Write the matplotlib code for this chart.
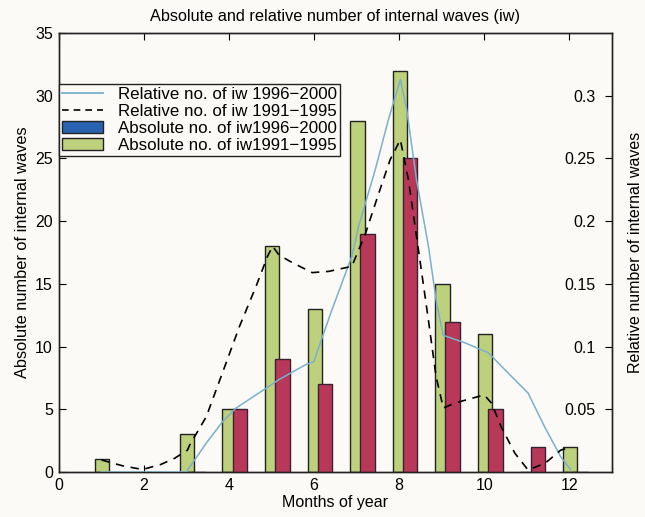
import matplotlib
matplotlib.use("Agg")
import matplotlib.pyplot as plt
import numpy as np
from matplotlib.patches import Patch
from matplotlib.lines import Line2D

plt.rcParams['font.family'] = ['Liberation Sans', 'DejaVu Sans']

months = [1, 2, 3, 4, 5, 6, 7, 8, 9, 10, 11, 12]
abs_1991_1995 = [1, 0, 3, 5, 18, 13, 28, 32, 15, 11, 0, 2]
abs_1996_2000 = [0, 0, 0, 5, 9, 7, 19, 25, 12, 5, 2, 0]

# relative curves (smoothed curves)
rel_1996_2000_x = [1, 2, 3, 3.47, 3.85, 4.17, 4.64, 5.17, 5.8, 6.0, 6.15, 6.42, 6.89, 7.05,
                   7.44, 7.75, 8.03, 8.18, 8.41, 8.69, 8.88, 9.04, 9.55, 10.1, 10.56,
                   11.03, 11.42, 11.8, 12.03]
rel_1996_2000_y = [0, 0, 0, 0.023, 0.040, 0.051, 0.0615, 0.0735, 0.0855, 0.088, 0.103, 0.129,
                   0.172, 0.196, 0.241, 0.281, 0.313, 0.289, 0.233, 0.180, 0.135, 0.109,
                   0.103, 0.095, 0.079, 0.063, 0.036, 0.012, 0.002]

rel_1991_1995_x = [1.01, 1.5, 1.97, 2.4, 2.73, 3.03, 3.08, 3.47, 3.85, 4.25, 4.64, 4.91, 5.03,
                   5.18, 5.49, 5.96, 6.35, 6.89, 7.21, 7.52, 7.79, 8.03, 8.22, 8.49, 8.69,
                   8.87, 9.04, 9.31, 10.0, 10.17, 10.4, 10.72, 11.03, 11.43, 11.8, 11.95]
rel_1991_1995_y = [0.0096, 0.005, 0.002, 0.006, 0.011, 0.0175, 0.0215, 0.044, 0.079, 0.116,
                   0.148, 0.172, 0.180, 0.173, 0.167, 0.159, 0.160, 0.164, 0.190, 0.222,
                   0.249, 0.265, 0.233, 0.169, 0.121, 0.076, 0.051, 0.055, 0.0615, 0.055,
                   0.036, 0.015, 0.0016, 0.007, 0.0175, 0.019]

green = '#bdd07c'
red = '#b8385a'
blue_patch = '#2a62b2'
blue_line = '#7ab0cc'
bg = '#fcfaf7'

fig = plt.figure(figsize=(6.45, 5.17), dpi=100, facecolor=bg)
ax = fig.add_axes([0.0907, 0.087, 0.858, 0.849], facecolor=bg)
ax2 = ax.twinx()

m = np.array(months, dtype=float)
w = 0.34
ax.bar(m + 0.02, abs_1991_1995, width=w, color=green, edgecolor='#222222', linewidth=1.0, zorder=2)
ax.bar(m + 0.26, abs_1996_2000, width=w, color=red, edgecolor='#3a2030', linewidth=1.0, zorder=3)

ax2.plot(rel_1996_2000_x, rel_1996_2000_y, color=blue_line, lw=1.1, zorder=4)
ax2.plot(rel_1991_1995_x, rel_1991_1995_y, color='black', lw=1.2, ls=(0, (5, 4)), zorder=4)

ax.set_xlim(0, 13)
ax.set_ylim(0, 35)
ax2.set_ylim(0, 0.35)
ax.set_xticks([0, 2, 4, 6, 8, 10, 12])
ax.set_yticks([0, 5, 10, 15, 20, 25, 30, 35])
ax2.set_yticks([0.05, 0.1, 0.15, 0.2, 0.25, 0.3])
ax2.set_yticklabels(['0.05', '0.1', '0.15', '0.2', '0.25', '0.3'])

ax.tick_params(axis='both', direction='in', labelsize=11.5, length=5, top=True, right=False, pad=4)
ax2.tick_params(axis='y', direction='in', labelsize=11.5, length=5, pad=-12)
for lab in ax2.get_yticklabels():
    lab.set_horizontalalignment('right')

ax.set_xlabel('Months of year', fontsize=11.5, labelpad=2)
ax.set_ylabel('Absolute number of internal waves', fontsize=11.8, labelpad=4)
ax2.set_ylabel('Relative number of internal waves', fontsize=11.5)
ax2.yaxis.set_label_coords(1.0425, 0.5)
ax2.yaxis.label.set_verticalalignment('center')
ax2.yaxis.label.set_horizontalalignment('center')
ax.set_title('Absolute and relative number of internal waves (iw)', fontsize=11.7, pad=9)

for a in (ax, ax2):
    for s in a.spines.values():
        s.set_linewidth(1.0)
        s.set_color('#222222')

handles = [Line2D([], [], color=blue_line, lw=1.3),
           Line2D([], [], color='black', lw=1.2, ls=(0, (4, 3))),
           Patch(facecolor=blue_patch, edgecolor='#222222'),
           Patch(facecolor=green, edgecolor='#222222')]
labels = ['Relative no. of iw 1996\u22122000', 'Relative no. of iw 1991\u22121995',
          'Absolute no. of iw1996\u22122000', 'Absolute no. of iw1991\u22121995']
leg = ax2.legend(handles, labels, loc='upper left', bbox_to_anchor=(0.0, 0.885),
                 fontsize=12.2, frameon=True, fancybox=False, edgecolor='#222222',
                 framealpha=1, facecolor=bg, borderpad=0.2, labelspacing=0.12,
                 handlelength=2.4, handletextpad=0.9, borderaxespad=0)
leg.get_frame().set_linewidth(1.0)
leg.set_zorder(10)

fig.savefig('out.png', dpi=100, facecolor=bg)
